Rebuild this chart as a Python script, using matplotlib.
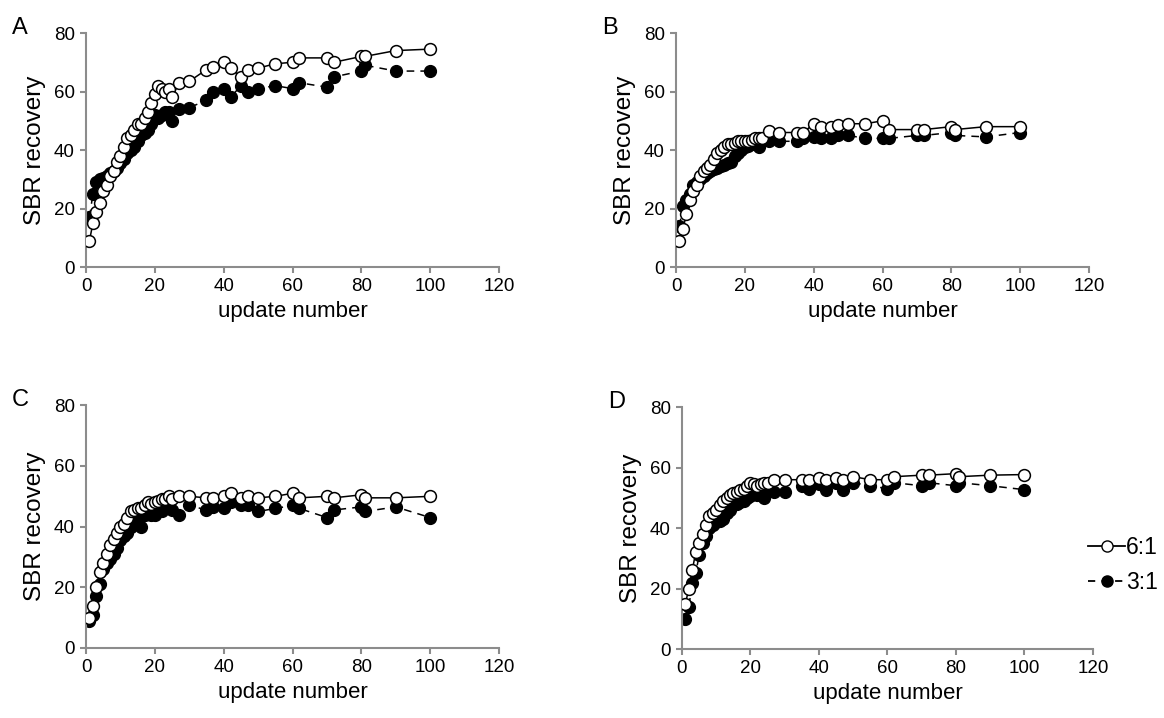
import matplotlib
matplotlib.use("Agg")
import matplotlib.pyplot as plt
from matplotlib.lines import Line2D

plt.rcParams['font.family'] = ['Liberation Sans', 'DejaVu Sans']

# update numbers shared by all panels
updates = [1, 2, 3, 4, 5, 6, 7, 8, 9, 10, 11, 12, 13, 14, 15, 16, 17, 18, 19, 20,
           21, 22, 23, 24, 25, 27, 30, 35, 37, 40, 42, 45, 47, 50, 55, 60, 62,
           70, 72, 80, 81, 90, 100]

# panel A
a_six = [9, 15, 19, 22, 26, 28, 31, 33, 36, 38, 41, 44, 45, 47, 49, 49, 51, 53, 56, 59,
         62, 61, 60, 61, 58, 63, 63.5, 67.5, 68.5, 70, 68, 65, 67.5, 68, 69.5, 70, 71.5,
         71.5, 70, 72, 72, 74, 74.5]
a_three = [17, 25, 29, 30, 30.5, 31, 32, 33, 34, 35.5, 37, 39, 40, 41, 43, 45, 46, 47, 49, 52,
           51, 52, 53, 53, 50, 54, 54.5, 57, 60, 61, 58, 62, 60, 61, 62, 61, 63,
           61.5, 65, 67, 69, 67, 67]

# panel B
b_six = [9, 13, 18, 23, 26, 28, 31, 33, 34, 35, 37, 39, 40, 41, 42, 42, 42.5, 43, 43, 43,
         43, 43.5, 44, 44, 44, 46.5, 46, 46, 46, 49, 48, 48, 48.5, 49, 49, 50, 47,
         47, 47, 48, 47, 48, 48]
b_three = [14, 21, 23, 25, 28, 29, 30, 31, 32, 33, 33.5, 34, 34.5, 35, 35.5, 36, 38, 39, 40, 41,
           41.5, 42, 42, 41, 43, 43, 43, 43, 44, 44.5, 44, 44, 45, 45, 44, 44, 44,
           45, 45, 46, 45, 44.5, 46]

# panel C
c_six = [10, 14, 20, 25, 28, 31, 34, 36, 38, 40, 41, 43, 45, 45.5, 46, 46, 47, 48, 47.5, 48,
         48.5, 49, 49, 50, 49, 50, 50, 49.5, 49.5, 50, 51, 49.5, 50, 49.5, 50, 51, 49.5,
         50, 49.5, 50.5, 49.5, 49.5, 50]
c_three = [9, 11, 17, 21, 26, 28, 29.5, 31, 33, 35.5, 37, 38, 40, 41, 43, 40, 44, 45, 44, 44,
           46, 45, 46, 46, 45.5, 44, 47, 45.5, 46.5, 46, 48, 47, 47, 45, 46, 47, 46,
           43, 45.5, 46.5, 45, 46.5, 43]

# panel D
d_six = [15, 20, 26, 32, 35, 38, 41, 44, 45, 46, 47.5, 49, 50, 51, 51.5, 52, 52.5, 53, 54, 55,
         54.5, 54, 54.5, 55, 55, 56, 56, 56, 56, 56.5, 56, 56.5, 56, 57, 56, 56, 57,
         57.5, 57.5, 58, 57, 57.5, 57.7]
d_three = [10, 14, 22, 25, 31, 35, 37.5, 40, 41, 42, 42.5, 43, 45, 46, 47.5, 48, 48.5, 49, 50, 50.5,
           52, 51, 51, 50, 53, 52, 52, 54, 53, 54.5, 52.5, 55, 52.5, 55, 54, 53, 55,
           54, 55, 54, 55, 54, 52.7]

panels = [("A", a_six, a_three), ("B", b_six, b_three),
          ("C", c_six, c_three), ("D", d_six, d_three)]

# axes rectangles in figure fractions (left, bottom, width, height)
rects = [[0.0739, 0.628, 0.3548, 0.326],
         [0.5808, 0.628, 0.3548, 0.326],
         [0.0739, 0.0975, 0.3548, 0.338],
         [0.5859, 0.0960, 0.3531, 0.337]]

fig = plt.figure(figsize=(11.64, 7.18), dpi=100)
grey = '#8c8c8c'

for (name, six, three), rect in zip(panels, rects):
    ax = fig.add_axes(rect)
    ax.plot(updates, six, color='black', lw=1.1, marker='o', ms=8.5,
            mfc='white', mec='black', mew=1.1, zorder=3)
    ax.plot(updates, three, color='black', lw=1.1, ls=(0, (5, 4)), marker='o', ms=8.5,
            mfc='black', mec='black', zorder=2)
    ax.set_xlim(0, 120)
    ax.set_ylim(0, 80)
    ax.set_xticks(range(0, 121, 20))
    ax.set_yticks(range(0, 81, 20))
    for s in ['top', 'right']:
        ax.spines[s].set_visible(False)
    for s in ['left', 'bottom']:
        ax.spines[s].set_color(grey)
        ax.spines[s].set_linewidth(1.5)
    ax.tick_params(direction='out', length=4, width=1.5, color=grey,
                   labelsize=13.5, pad=4)
    ax.set_xlabel('update number', fontsize=16, labelpad=4)
    ax.set_ylabel('SBR recovery', fontsize=17.5, labelpad=6)
    ax.text(-0.18, 1.02, name, transform=ax.transAxes, fontsize=17,
            ha='left', va='center')

handles = [Line2D([], [], color='black', lw=1.3, marker='o', ms=8,
                  mfc='white', mec='black'),
           Line2D([], [], color='black', lw=1.3, ls=(0, (4, 3.5)), marker='o', ms=8,
                  mfc='black', mec='black')]
fig.legend(handles, ['6:1', '3:1'], loc='center left',
           bbox_to_anchor=(0.935, 0.213), frameon=False, fontsize=16.5,
           handlelength=1.6, handletextpad=0.05, labelspacing=0.55,
           borderpad=0, borderaxespad=0)

fig.savefig('out.png', dpi=100)
